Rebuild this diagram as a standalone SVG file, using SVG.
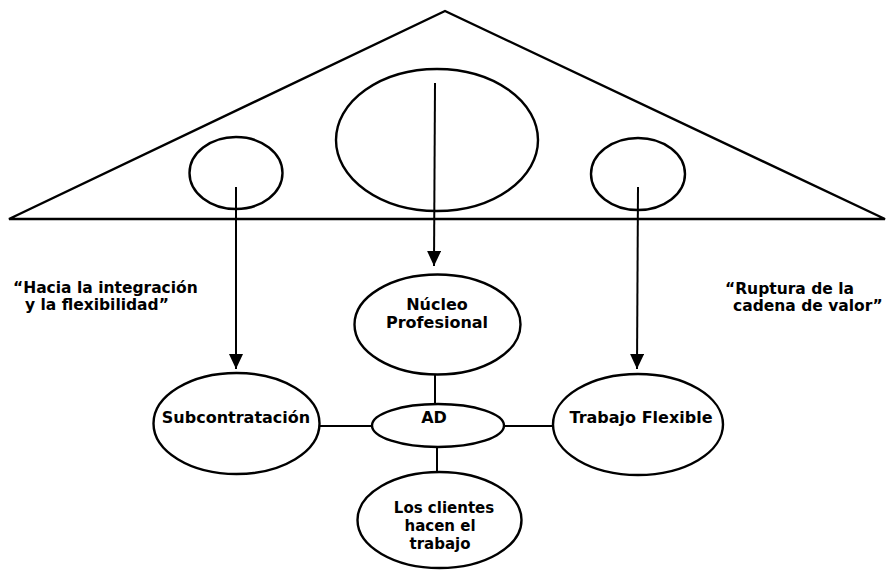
<svg xmlns="http://www.w3.org/2000/svg" width="890" height="570" viewBox="0 0 890 570">
  <style>
    .shape { fill: none; stroke: #000; stroke-width: 2.4; }
    .link { fill: none; stroke: #000; stroke-width: 2; }
    .label { font-family: "DejaVu Sans", Verdana, sans-serif; font-weight: bold; font-size: 16px; fill: #000; text-anchor: middle; }
    .small { font-size: 15px; }
    .note { font-family: "DejaVu Sans", Verdana, sans-serif; font-weight: bold; font-size: 15.5px; fill: #000; }
  </style>
  <defs>
    <marker id="arrow" markerUnits="userSpaceOnUse" markerWidth="16" markerHeight="14" refX="15" refY="7" orient="auto">
      <path d="M0,0 L15,7 L0,14 Z" fill="#000"/>
    </marker>
  </defs>
  <rect width="890" height="570" fill="#fff"/>

  <!-- roof triangle with its three inner circles -->
  <g id="roof">
    <polygon class="shape" points="445,11 9,219 885,219" stroke-width="2.2"/>
    <ellipse class="shape" cx="236" cy="173" rx="46.5" ry="36"/>
    <ellipse class="shape" cx="437" cy="140" rx="101" ry="71"/>
    <ellipse class="shape" cx="638" cy="174" rx="47" ry="36"/>
  </g>

  <!-- connectors -->
  <g id="connectors">
    <line class="link" x1="236" y1="187" x2="236" y2="369" marker-end="url(#arrow)"/>
    <line class="link" x1="435" y1="83" x2="434" y2="266" marker-end="url(#arrow)"/>
    <line class="link" x1="638" y1="187" x2="637" y2="369" marker-end="url(#arrow)"/>
    <line class="link" x1="435" y1="374" x2="435" y2="404"/>
    <line class="link" x1="320" y1="426" x2="372" y2="426"/>
    <line class="link" x1="503" y1="426" x2="553" y2="426"/>
    <line class="link" x1="437" y1="447" x2="437" y2="473"/>
  </g>

  <g id="nucleo">
    <ellipse class="shape" cx="437.5" cy="324.5" rx="83" ry="50"/>
    <text class="label" x="437" y="310">Núcleo</text>
    <text class="label" x="437" y="328">Profesional</text>
  </g>

  <g id="subcontratacion">
    <ellipse class="shape" cx="236.5" cy="423.5" rx="83" ry="50.5"/>
    <text class="label" x="236" y="423">Subcontratación</text>
  </g>

  <g id="ad">
    <ellipse class="shape" cx="438" cy="425.5" rx="66" ry="21.5"/>
    <text class="label" x="434" y="423">AD</text>
  </g>

  <g id="trabajo-flexible">
    <ellipse class="shape" cx="638" cy="424.5" rx="85" ry="50.5"/>
    <text class="label" x="641" y="423">Trabajo Flexible</text>
  </g>

  <g id="clientes">
    <ellipse class="shape" cx="439.5" cy="520" rx="82" ry="48"/>
    <text class="label small" x="444" y="513">Los clientes</text>
    <text class="label small" x="440" y="531">hacen el</text>
    <text class="label small" x="440" y="549">trabajo</text>
  </g>

  <g id="notes">
    <text class="note" x="13" y="293">“Hacia la integración</text>
    <text class="note" x="25" y="310">y la flexibilidad”</text>
    <text class="note" x="725" y="294">“Ruptura de la</text>
    <text class="note" x="733" y="311">cadena de valor”</text>
  </g>
</svg>
